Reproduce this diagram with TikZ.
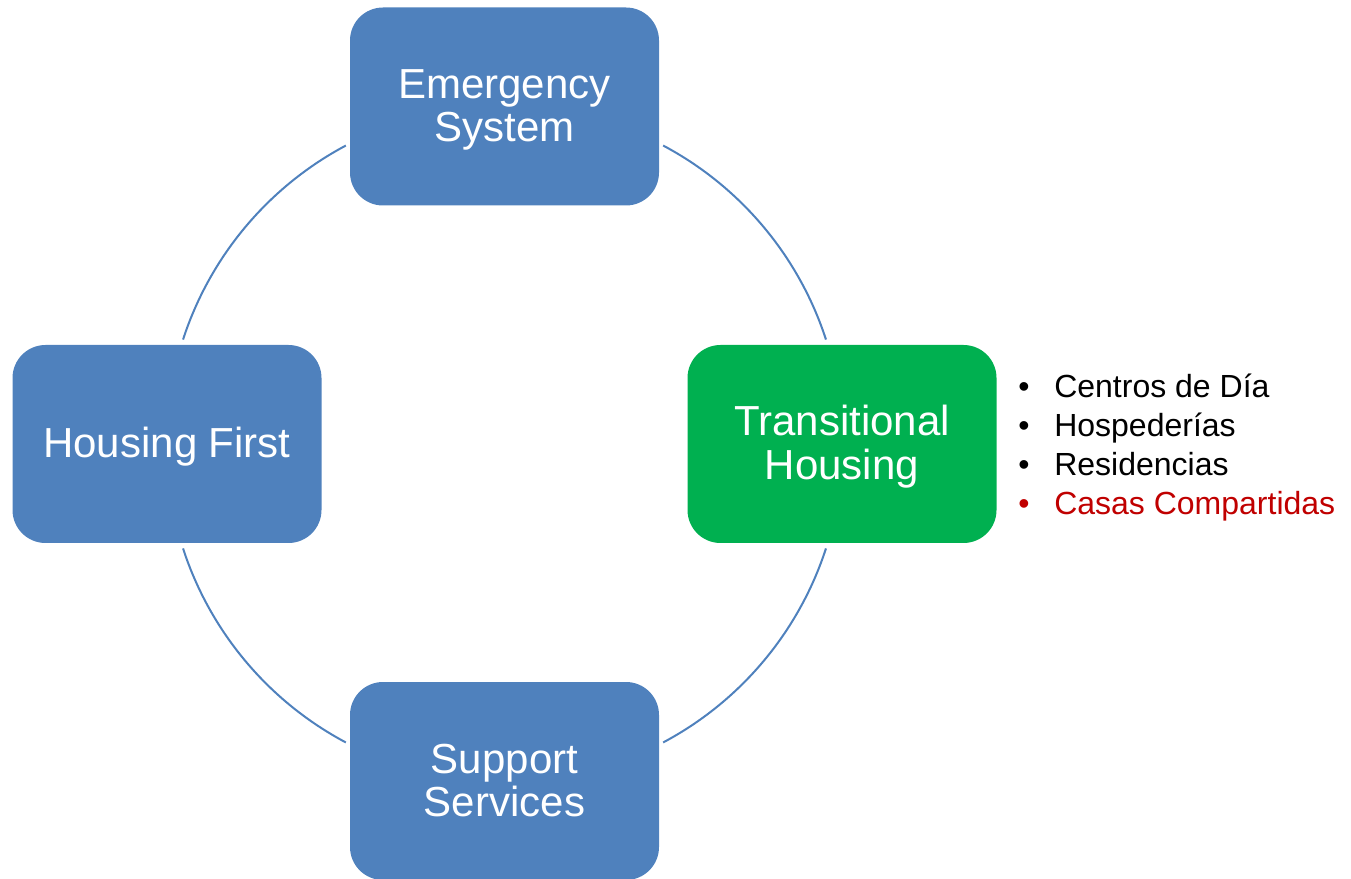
\documentclass[tikz,border=0pt]{standalone}
\usepackage{fontspec}
\setmainfont{Liberation Sans}
\usetikzlibrary{calc}
\definecolor{boxblue}{HTML}{4F81BD}
\definecolor{boxgreen}{HTML}{00B050}
\definecolor{listred}{HTML}{C00000}
\newcommand{\topstrut}{\rule{0pt}{27.5pt}}
\newcommand{\botstrut}{\rule[-7pt]{0pt}{7pt}}
\begin{document}
\begin{tikzpicture}[x=0.75pt,y=0.75pt,
  box/.style={rectangle, rounded corners=24.75pt, fill=boxblue, draw=none,
    minimum width=231.75pt, minimum height=148.5pt, inner sep=0pt,
    text=white, align=center, font=\fontsize{31.5}{32.5}\selectfont},
  ring/.style={draw=boxblue, line width=1.5pt},
  item/.style={anchor=base west, inner sep=0pt, font=\fontsize{24}{28}\selectfont}]
\useasboundingbox (0,0) rectangle (1351,878);
\coordinate (c) at (504.5,434);
\node[box] (es) at (504.5,771.5) {\topstrut Emergency\\System\botstrut};
\node[box] (hf) at (167,434) {\topstrut Housing First\botstrut};
\node[box, fill=boxgreen] (th) at (842,434) {\topstrut Transitional\\Housing\botstrut};
\node[box] (ss) at (504.5,97) {\topstrut Support\\Services\botstrut};
% ring segments between the boxes
\coordinate (a1s) at ($(c)+(18:338)$);
\coordinate (a2s) at ($(c)+(118:338)$);
\coordinate (a3s) at ($(c)+(198:338)$);
\coordinate (a4s) at ($(c)+(298:338)$);
\draw[ring] (a1s) arc[start angle=18, end angle=62, radius=338];
\draw[ring] (a2s) arc[start angle=118, end angle=162, radius=338];
\draw[ring] (a3s) arc[start angle=198, end angle=242, radius=338];
\draw[ring] (a4s) arc[start angle=298, end angle=342, radius=338];
% bullet list
\node[item] (b1) at (1018,480.5) {•};
\node[item] (t1) at (1054,480.5) {Centros de Día};
\node[item] (b2) at (1018,441.6) {•};
\node[item] (t2) at (1054,441.6) {Hospederías};
\node[item] (b3) at (1018,402.8) {•};
\node[item] (t3) at (1054,402.8) {Residencias};
\node[item, text=listred] (b4) at (1018,363.9) {•};
\node[item, text=listred] (t4) at (1054,363.9) {Casas Compartidas};
\end{tikzpicture}
\end{document}
